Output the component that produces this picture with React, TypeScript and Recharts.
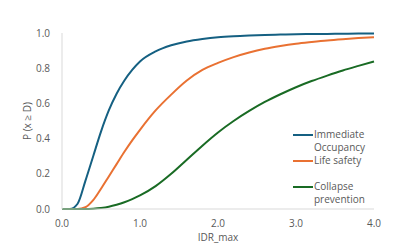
import { LineChart, Line, XAxis, YAxis, Legend } from 'recharts';

const IDR = [0, 0.1, 0.2, 0.3, 0.4, 0.5, 0.6, 0.7, 0.8, 0.9, 1.0, 1.2, 1.4, 1.6, 1.8, 2.0, 2.2, 2.4, 2.6, 2.8, 3.0, 3.2, 3.4, 3.6, 3.8, 4.0];
const IMMEDIATE = [0, 0, 0.03, 0.16, 0.30, 0.44, 0.56, 0.655, 0.73, 0.79, 0.838, 0.895, 0.93, 0.952, 0.966, 0.976, 0.982, 0.986, 0.989, 0.991, 0.993, 0.994, 0.995, 0.996, 0.997, 0.997];
const LIFE = [0, 0, 0, 0.01, 0.05, 0.115, 0.185, 0.255, 0.325, 0.39, 0.45, 0.56, 0.65, 0.73, 0.79, 0.83, 0.863, 0.889, 0.91, 0.926, 0.939, 0.949, 0.958, 0.965, 0.971, 0.976];
const COLLAPSE = [0, 0, 0, 0, 0.002, 0.006, 0.013, 0.024, 0.038, 0.056, 0.077, 0.13, 0.20, 0.28, 0.36, 0.435, 0.50, 0.557, 0.608, 0.652, 0.692, 0.727, 0.758, 0.787, 0.813, 0.838];

const X_TICKS = [0, 1, 2, 3, 4];
const Y_TICKS = [0, 0.2, 0.4, 0.6, 0.8, 1.0];

const SERIES = [
  { key: 'io', name: 'Immediate Occupancy', color: '#156082' },
  { key: 'ls', name: 'Life safety', color: '#E97132' },
  { key: 'cp', name: 'Collapse prevention', color: '#196B24' },
];

const data = IDR.map((x, i) => ({ x, io: IMMEDIATE[i], ls: LIFE[i], cp: COLLAPSE[i] }));

const FONT = '"Open Sans", sans-serif';
const TEXT = '#595959';

// keep the series order (recharts sorts legend items by name otherwise)
function renderLegend() {
  return (
    <div style={{ fontFamily: FONT, fontSize: 10, color: TEXT, lineHeight: '13px' }}>
      {SERIES.map((s) => (
        <div key={s.key} style={{ display: 'flex', alignItems: 'flex-start', height: 26 }}>
          <div style={{ width: 20, height: 2, background: s.color, marginTop: 6, marginRight: 1, flexShrink: 0 }} />
          <div style={{ width: 62 }}>{s.name}</div>
        </div>
      ))}
    </div>
  );
}

function YLabel(props: any) {
  const vb = props.viewBox;
  const cx = 27;
  const cy = vb.y + vb.height / 2;
  return (
    <text
      x={cx}
      y={cy}
      transform={`rotate(-90, ${cx}, ${cy})`}
      textAnchor="middle"
      dominantBaseline="central"
      fontFamily={FONT}
      fontSize={10}
      fill={TEXT}
    >
      P (x ≥ D)
    </text>
  );
}

export default function App() {
  return (
    <div style={{ position: 'absolute', left: 0, top: 0, width: 418, height: 249, background: '#fff' }}>
      <LineChart width={418} height={249} data={data} margin={{ top: 33, right: 44, bottom: 0, left: 0 }}>
        <XAxis
          type="number"
          dataKey="x"
          domain={[0, 4]}
          ticks={X_TICKS}
          tickFormatter={(v: number) => v.toFixed(1)}
          tickLine={false}
          tickSize={0}
          tickMargin={11}
          height={40}
          stroke="#d9d9d9"
          tick={{ fontSize: 10, fill: TEXT, fontFamily: FONT }}
          label={{ value: 'IDR_max', position: 'insideBottom', offset: 8, fontSize: 10, fill: TEXT, fontFamily: FONT }}
        />
        <YAxis
          type="number"
          domain={[0, 1]}
          ticks={Y_TICKS}
          tickFormatter={(v: number) => v.toFixed(1)}
          tickLine={false}
          tickSize={0}
          tickMargin={12}
          width={62}
          stroke="#d9d9d9"
          tick={{ fontSize: 10, fill: TEXT, fontFamily: FONT }}
          label={<YLabel />}
        />
        <Legend
          layout="horizontal"
          verticalAlign="middle"
          align="center"
          content={renderLegend}
          wrapperStyle={{ position: 'absolute', left: 293, top: 128, width: 110 }}
        />
        {SERIES.map((s) => (
          <Line
            key={s.key}
            type="monotone"
            dataKey={s.key}
            name={s.name}
            stroke={s.color}
            strokeWidth={2}
            dot={false}
            isAnimationActive={false}
          />
        ))}
      </LineChart>
    </div>
  );
}
